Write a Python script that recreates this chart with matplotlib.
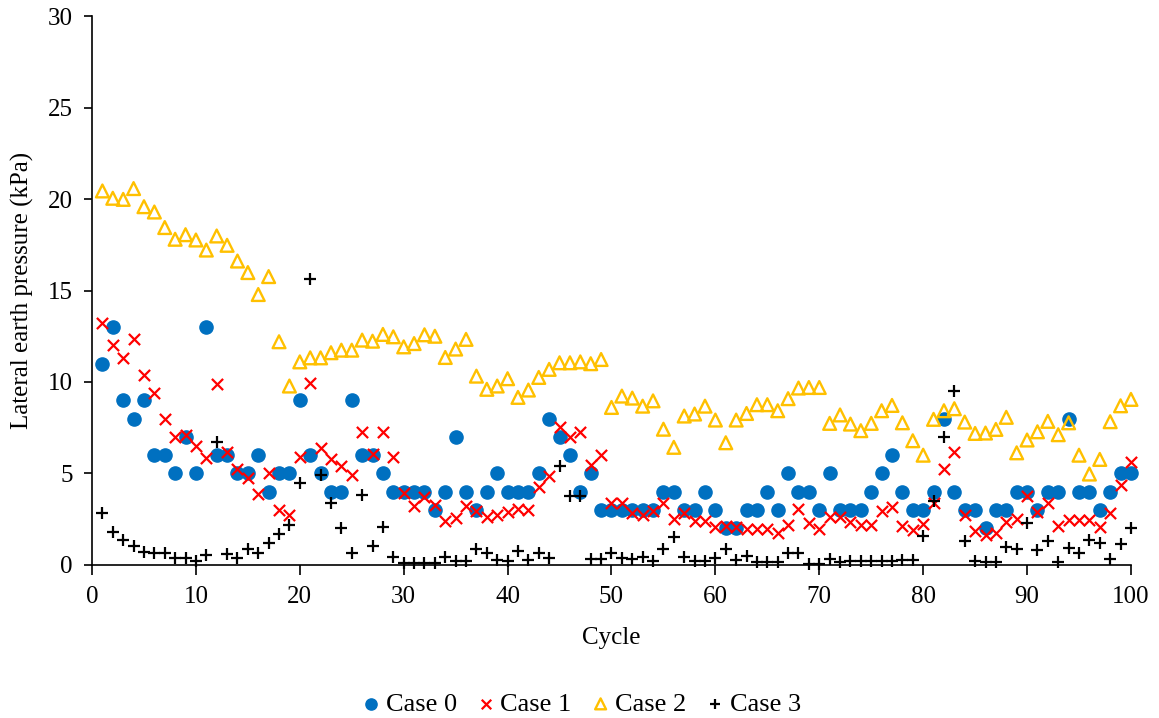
import numpy as np
import matplotlib.pyplot as plt

cycles = np.arange(1, 101)

case0 = [11, 13, 9, 8, 9, 6, 6, 5, 7, 5,
         13, 6, 6, 5, 5, 6, 4, 5, 5, 9,
         6, 5, 4, 4, 9, 6, 6, 5, 4, 4,
         4, 4, 3, 4, 7, 4, 3, 4, 5, 4,
         4, 4, 5, 8, 7, 6, 4, 5, 3, 3,
         3, 3, 3, 3, 4, 4, 3, 3, 4, 3,
         2, 2, 3, 3, 4, 3, 5, 4, 4, 3,
         5, 3, 3, 3, 4, 5, 6, 4, 3, 3,
         4, 8, 4, 3, 3, 2, 3, 3, 4, 4,
         3, 4, 4, 8, 4, 4, 3, 4, 5, 5]

case1 = [13.2, 12.0, 11.3, 12.35, 10.4, 9.38, 7.96, 7.0, 7.1, 6.5,
         5.85, 9.9, 6.17, 5.23, 4.75, 3.88, 5.0, 3.0, 2.71, 5.92,
         9.92, 6.37, 5.81, 5.41, 4.9, 7.28, 6.06, 7.28, 5.88, 3.95,
         3.22, 3.73, 3.28, 2.42, 2.57, 3.22, 2.93, 2.6, 2.71, 2.89,
         3.04, 3.0, 4.24, 4.86, 7.52, 7.01, 7.26, 5.48, 5.99, 3.4,
         3.37, 2.86, 2.75, 2.93, 3.37, 2.5, 2.82, 2.39, 2.39, 2.09,
         2.13, 2.09, 1.98, 1.98, 1.95, 1.73, 2.17, 3.08, 2.31, 1.98,
         2.6, 2.64, 2.35, 2.2, 2.2, 2.93, 3.15, 2.13, 1.91, 2.24,
         3.37, 5.26, 6.19, 2.71, 1.87, 1.62, 1.73, 2.35, 2.53, 3.77,
         2.89, 3.37, 2.13, 2.46, 2.46, 2.46, 2.06, 2.82, 4.37, 5.64]

case2 = [20.44, 20.04, 19.98, 20.57, 19.58, 19.29, 18.44, 17.8, 18.05, 17.76,
         17.21, 17.98, 17.47, 16.61, 15.98, 14.78, 15.76, 12.2, 9.78, 11.1,
         11.32, 11.32, 11.6, 11.74, 11.74, 12.29, 12.23, 12.6, 12.47, 11.92,
         12.1, 12.58, 12.5, 11.34, 11.8, 12.33, 10.32, 9.6, 9.78, 10.18,
         9.16, 9.56, 10.25, 10.69, 11.05, 11.05, 11.1, 11.0, 11.23, 8.61,
         9.23, 9.12, 8.68, 8.97, 7.42, 6.43, 8.14, 8.25, 8.68, 7.92,
         6.68, 7.92, 8.28, 8.76, 8.76, 8.43, 9.09, 9.67, 9.7, 9.7,
         7.74, 8.2, 7.7, 7.34, 7.74, 8.43, 8.72, 7.77, 6.79, 6.0,
         7.96, 8.43, 8.54, 7.81, 7.19, 7.21, 7.41, 8.07, 6.13, 6.83,
         7.28, 7.85, 7.12, 7.77, 6.0, 4.97, 5.77, 7.83, 8.7, 9.05]

case3 = [2.86, 1.8, 1.37, 1.04, 0.71, 0.64, 0.64, 0.4, 0.4, 0.22,
         0.53, 6.72, 0.58, 0.4, 0.9, 0.64, 1.22, 1.72, 2.18, 4.5,
         15.64, 4.9, 3.37, 2.0, 0.67, 3.82, 1.04, 2.09, 0.45, 0.09,
         0.09, 0.09, 0.09, 0.45, 0.24, 0.24, 0.86, 0.67, 0.27, 0.24,
         0.78, 0.27, 0.64, 0.36, 5.41, 3.77, 3.77, 0.31, 0.31, 0.67,
         0.36, 0.31, 0.42, 0.24, 0.86, 1.55, 0.42, 0.24, 0.24, 0.36,
         0.86, 0.27, 0.49, 0.18, 0.16, 0.16, 0.64, 0.64, 0.05, 0.05,
         0.31, 0.16, 0.24, 0.2, 0.2, 0.2, 0.2, 0.27, 0.27, 1.58,
         3.51, 7.0, 9.52, 1.33, 0.2, 0.18, 0.18, 0.97, 0.9, 2.31,
         0.84, 1.33, 0.18, 0.91, 0.67, 1.37, 1.19, 0.31, 1.15, 2.0]

plt.rcParams['font.family'] = ['Liberation Serif', 'DejaVu Serif']

fig = plt.figure(figsize=(11.59, 7.18), dpi=100)
ax = fig.add_axes([0.0794, 0.2131, 0.8964, 0.7646])

ax.scatter(cycles, case0, s=90, marker='o', color='#0070C0', label='Case 0', zorder=3, clip_on=False)
ax.scatter(cycles, case1, s=65, marker='x', color='#FF0000', linewidths=1.6, label='Case 1', zorder=4, clip_on=False)
ax.scatter(cycles, case2, s=85, marker='^', facecolors='none', edgecolors='#FFC000', linewidths=1.7, label='Case 2', zorder=5, clip_on=False)
ax.scatter(cycles, case3, s=65, marker='+', color='black', linewidths=1.6, label='Case 3', zorder=6, clip_on=False)

ax.set_xlim(0, 100)
ax.set_ylim(0, 30)
ax.set_xticks(range(0, 101, 10))
ax.set_yticks(range(0, 31, 5))
ax.spines['top'].set_visible(False)
ax.spines['right'].set_visible(False)
ax.spines['left'].set_linewidth(1.2)
ax.spines['bottom'].set_linewidth(1.2)
ax.tick_params(axis='both', labelsize=18, width=1.2, direction='out')
ax.tick_params(axis='x', length=7, pad=8)
ax.tick_params(axis='y', length=6, pad=8)

ax.set_xlabel('Cycle', fontsize=18, labelpad=14)
ax.set_ylabel('Lateral earth pressure (kPa)', fontsize=18, labelpad=10)

fig.legend(loc='lower center', bbox_to_anchor=(0.5, -0.03), ncol=4, frameon=False,
           fontsize=19, markerscale=0.85, handletextpad=0.05, columnspacing=0.6, handlelength=1.0)

fig.savefig('out.png', dpi=100)
